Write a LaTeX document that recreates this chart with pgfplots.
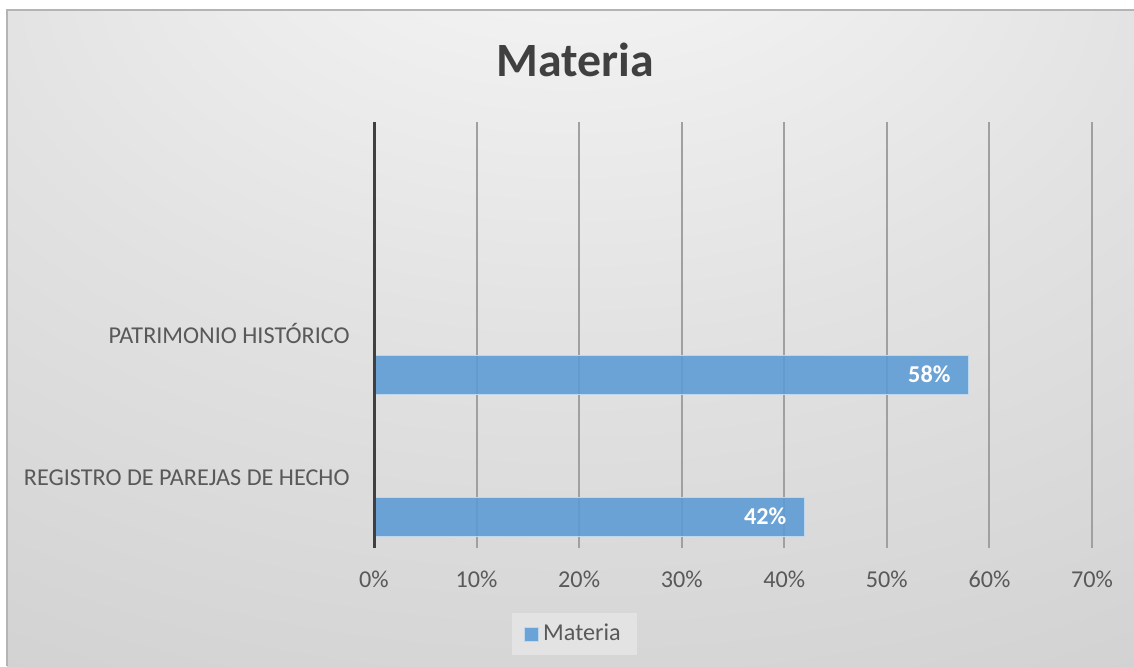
\documentclass[border=0pt]{standalone}
\usepackage{pgfplots}
\pgfplotsset{compat=1.18}
\usepackage{fontspec}
\setmainfont{Carlito}
\definecolor{barblue}{RGB}{91,155,213}
\definecolor{baredge}{RGB}{189,215,238}
\definecolor{txt}{RGB}{89,89,89}
\definecolor{ttl}{RGB}{64,64,64}
\definecolor{gridc}{RGB}{160,160,160}
\definecolor{axc}{RGB}{64,64,64}
\definecolor{legfill}{RGB}{227,227,227}
\definecolor{bgA}{RGB}{250,250,250}
\definecolor{bgB}{RGB}{226,226,226}
\definecolor{bgC}{RGB}{206,206,206}
\definecolor{bgD}{RGB}{192,192,192}
\pgfdeclareradialshading{chartbg}{\pgfpoint{0bp}{40bp}}{color(0bp)=(bgA); color(26bp)=(bgB); color(52bp)=(bgC); color(72bp)=(bgD)}
\newcommand{\lblfont}{\fontsize{12.1pt}{14.5pt}\selectfont}
\begin{document}
\begin{tikzpicture}
\begin{scope}[x=0.5pt,y=-0.5pt]
\path[use as bounding box] (0,0) rectangle (1134,666);
\fill[white] (0,0) rectangle (1134,666);
\shade[shading=chartbg] (7,10) rectangle (1134,666);
\draw[color={rgb,255:red,180;green,180;blue,180}, line width=0.75pt] (7,666) -- (7,10) -- (1134,10);
\node[anchor=base, font=\fontsize{23.9pt}{28pt}\selectfont\bfseries, text=ttl, inner sep=0] at (575,76) {Materia};
\end{scope}
\begin{axis}[
 at={(187pt,-274pt)}, anchor=south west, scale only axis,
 width=359pt, height=213pt,
 xmin=0, xmax=70, ymin=0, ymax=426,
 axis line style={draw=none},
 major tick length=0pt,
 xtick={0,10,20,30,40,50,60,70},
 xticklabels={0\%,10\%,20\%,30\%,40\%,50\%,60\%,70\%},
 ytick={63,205},
 yticklabels={REGISTRO DE PAREJAS DE HECHO, PATRIMONIO HISTÓRICO},
 xmajorgrids, grid style={gridc, line width=1pt},
 x tick label style={anchor=base, yshift=-19.5pt, inner sep=0pt, font=\lblfont, text=txt},
 y tick label style={anchor=base east, xshift=-12pt, inner sep=0pt, font=\lblfont, text=txt},
 legend style={at={(0.2792,-0.2019)}, anchor=center, draw=none, fill=legfill, inner xsep=6pt, inner ysep=3.5pt, font=\lblfont, text=txt},
 legend image code/.code={\draw[fill=barblue, draw=baredge, line width=0.5pt] (0pt,-3.5pt) rectangle (7pt,3.5pt);},
 clip=false,
]
\addplot[xbar, bar width=39, fill=barblue, fill opacity=0.88, draw=baredge, line width=0.5pt,
  point meta=explicit symbolic,
  nodes near coords,
  nodes near coords style={anchor=east, inner sep=0pt, xshift=-9pt, text=white, text opacity=1, font=\lblfont\bfseries}]
  coordinates {(42,31.5) [42\%] (58,173.5) [58\%]};
\addlegendentry{Materia}
\draw[axc, line width=1.5pt] (axis cs:0,0) -- (axis cs:0,426);
\end{axis}
\end{tikzpicture}
\end{document}
